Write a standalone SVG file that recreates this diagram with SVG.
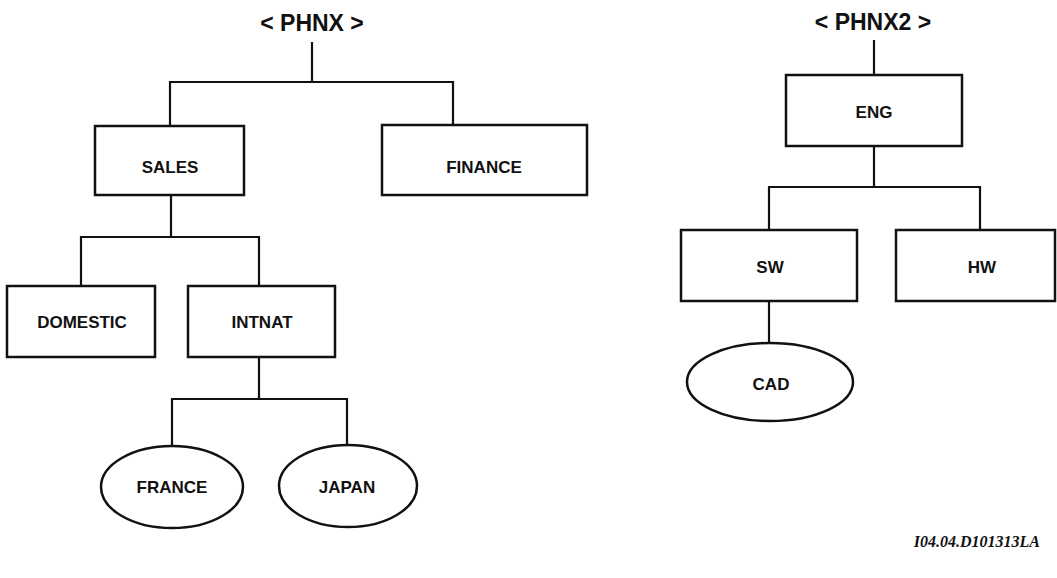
<svg xmlns="http://www.w3.org/2000/svg" width="1057" height="578" viewBox="0 0 1057 578">
<style>
.b{fill:#fff;stroke:#111;stroke-width:2.5}
.c{fill:none;stroke:#111;stroke-width:2.2}
.t{font-family:"Liberation Sans",Arial,sans-serif;font-weight:bold;font-size:17px;fill:#111;text-anchor:middle}
.h{font-family:"Liberation Sans",Arial,sans-serif;font-weight:bold;font-size:23px;fill:#111;text-anchor:middle}
.f{font-family:"Liberation Serif","Times New Roman",serif;font-weight:bold;font-style:italic;font-size:16px;fill:#111;text-anchor:end}
</style>
<rect width="1057" height="578" fill="#fff"/>
<g id="connectors">
<path class="c" d="M312 42V82M170 126V82H453V125"/>
<path class="c" d="M171 195V237M81 286V237H259V286"/>
<path class="c" d="M259 357V399M172 446V399H347V445"/>
<path class="c" d="M874 40V75M874 146V187M769 230V187H980V230"/>
<path class="c" d="M769 301V343"/>
</g>
<g id="PHNX"><text class="h" x="312" y="31">&lt; PHNX &gt;</text></g>
<g id="PHNX2"><text class="h" x="873" y="30">&lt; PHNX2 &gt;</text></g>
<g id="SALES"><rect class="b" x="95" y="126" width="149" height="69"/><text class="t" x="170" y="173">SALES</text></g>
<g id="FINANCE"><rect class="b" x="382" y="125" width="205" height="70"/><text class="t" x="484" y="173">FINANCE</text></g>
<g id="DOMESTIC"><rect class="b" x="7" y="286" width="148" height="71"/><text class="t" x="82" y="328">DOMESTIC</text></g>
<g id="INTNAT"><rect class="b" x="188" y="286" width="147" height="71"/><text class="t" x="262" y="328">INTNAT</text></g>
<g id="FRANCE"><ellipse class="b" cx="172" cy="487" rx="71" ry="41"/><text class="t" x="172" y="493">FRANCE</text></g>
<g id="JAPAN"><ellipse class="b" cx="348" cy="486" rx="69" ry="41"/><text class="t" x="347" y="493">JAPAN</text></g>
<g id="ENG"><rect class="b" x="786" y="75" width="176" height="71"/><text class="t" x="874" y="118">ENG</text></g>
<g id="SW"><rect class="b" x="681" y="230" width="176" height="71"/><text class="t" x="770" y="273">SW</text></g>
<g id="HW"><rect class="b" x="896" y="230" width="159" height="71"/><text class="t" x="982" y="273">HW</text></g>
<g id="CAD"><ellipse class="b" cx="770" cy="382" rx="83" ry="39"/><text class="t" x="771" y="390">CAD</text></g>
<text class="f" x="1040" y="547">I04.04.D101313LA</text>
</svg>
